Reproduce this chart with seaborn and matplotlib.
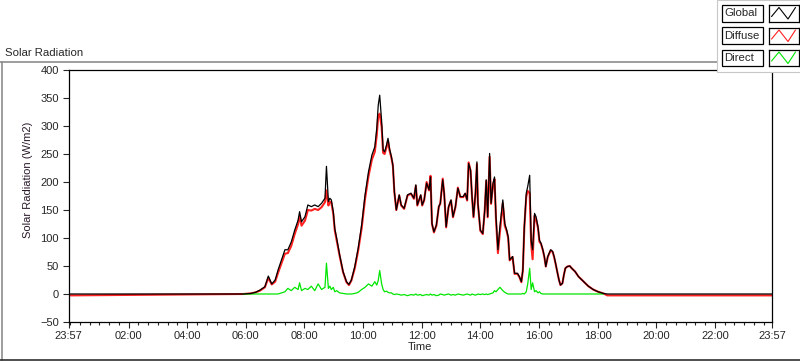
import numpy as np
import pandas as pd
import matplotlib.pyplot as plt
import seaborn as sns
from matplotlib.patches import Rectangle
from matplotlib.lines import Line2D

# Time in minutes after midnight (-3 = 23:57 the day before)
minutes = [-3, 355, 370, 380, 389, 399, 406, 413, 420, 426, 433, 440, 446, 453, 460,
           467, 470, 474, 481, 487, 494, 501, 508, 515, 522, 525, 529, 532, 535, 539,
           542, 546, 552, 559, 566, 571, 576, 583, 590, 597, 604, 611, 618, 624, 628,
           631, 634, 638, 641, 644, 648, 651, 654, 658, 661, 664, 668, 674, 678, 684,
           691, 698, 704, 708, 711, 718, 721, 725, 730, 735, 738, 741, 745, 750, 755,
           758, 763, 766, 770, 775, 780, 784, 789, 794, 799, 805, 809, 813, 816, 820,
           823, 826, 830, 833, 835, 840, 845, 849, 852, 855, 859, 862, 866, 869, 872,
           876, 880, 886, 890, 894, 897, 900, 906, 910, 916, 920, 924, 927, 930, 934,
           937, 941, 944, 947, 951, 954, 958, 961, 964, 968, 971, 974, 978, 981, 984,
           988, 991, 994, 998, 1001, 1004, 1008, 1011, 1014, 1018, 1023, 1027, 1034, 1041, 1048,
           1054, 1061, 1071, 1081, 1092, 1100, 1437]

global_rad = [0, 0, 1, 3, 7, 13, 32, 18, 25, 43, 61, 79, 79, 93, 114,
              132, 147, 129, 138, 159, 156, 159, 156, 162, 171, 228, 165, 171, 168, 147,
              117, 99, 70, 40, 22, 17, 25, 49, 82, 123, 177, 218, 248, 263, 296,
              337, 355, 308, 257, 254, 266, 278, 260, 245, 230, 183, 150, 177, 159, 153,
              177, 180, 171, 195, 159, 177, 159, 168, 198, 186, 209, 126, 111, 123, 156,
              162, 204, 180, 120, 156, 168, 138, 156, 189, 174, 174, 180, 168, 233, 221,
              174, 138, 180, 236, 162, 114, 108, 150, 204, 138, 251, 162, 198, 209, 138,
              79, 120, 168, 126, 114, 102, 61, 67, 37, 37, 31, 22, 43, 120, 180,
              192, 212, 96, 79, 144, 138, 120, 96, 91, 79, 67, 49, 67, 73, 79,
              76, 67, 55, 37, 25, 16, 19, 34, 46, 49, 50, 46, 40, 31, 25,
              20, 14, 8, 4, 1, 0, 0]

diffuse_rad = [-2.5, 0, 1, 3, 6, 12, 29, 17, 22, 38, 55, 72, 73, 86, 107,
               125, 139, 122, 131, 150, 149, 152, 150, 155, 164, 185, 158, 165, 163, 143,
               114, 96, 68, 39, 21, 16, 24, 46, 78, 117, 170, 210, 240, 254, 284,
               318, 322, 298, 252, 250, 262, 274, 257, 243, 229, 182, 150, 176, 158, 152,
               176, 179, 170, 193, 158, 176, 158, 167, 200, 185, 211, 125, 110, 122, 156,
               161, 206, 179, 119, 155, 167, 137, 155, 190, 173, 173, 179, 167, 235, 220,
               173, 137, 179, 232, 161, 113, 107, 149, 202, 137, 245, 161, 195, 205, 134,
               73, 110, 162, 122, 112, 100, 60, 66, 36, 36, 30, 21, 42, 118, 174,
               184, 180, 90, 62, 140, 134, 118, 93, 90, 78, 66, 49, 66, 72, 78,
               75, 66, 54, 37, 25, 16, 19, 34, 46, 49, 50, 46, 40, 31, 25,
               20, 14, 8, 4, 1, -2.5, -2.5]

direct_rad = [np.nan, 0, 0, 0, 0, 0, 0, 0, 0, 0, 2, 4, 10, 6, 12,
              8, 20, 6, 10, 8, 14, 6, 18, 8, 12, 55, 10, 14, 8, 12,
              4, 6, 2, 1, 0, 0, 0, 1, 3, 8, 12, 18, 14, 22, 16,
              24, 42, 18, 8, 4, 5, 3, 2, 2, 0, -1, 0, -1, -2, -1,
              -3, -1, -2, 0, -2, -1, -3, -2, -1, -2, 0, -2, -1, -3, -2,
              0, -1, -2, -1, 0, -2, -1, -2, 0, -1, -2, -1, 0, -1, -2,
              0, -1, -2, -1, 0, -1, 0, -1, 0, -1, 0, 1, 2, 6, 4,
              8, 12, 6, 3, 1, 0, 0, 0, 0, 0, 0, 0, 1, 0, 4,
              18, 46, 8, 20, 4, 6, 2, 4, 1, 0, 0, 0, 0, 0, 0,
              0, 0, 0, 0, 0, 0, 0, 0, 0, 0, 0, 0, 0, 0, 0,
              0, 0, 0, 0, 0, np.nan, np.nan]

tick_pos = [-3, 120, 240, 360, 480, 600, 720, 840, 960, 1080, 1200, 1320, 1437]
tick_labels = ['23:57', '02:00', '04:00', '06:00', '08:00', '10:00', '12:00',
               '14:00', '16:00', '18:00', '20:00', '22:00', '23:57']

df = pd.DataFrame({'Time': minutes, 'Global': global_rad,
                   'Diffuse': diffuse_rad, 'Direct': direct_rad})

sns.set_style('white')
plt.rcParams['font.family'] = ['Liberation Sans', 'DejaVu Sans']
plt.rcParams['font.size'] = 8

fig = plt.figure(figsize=(8, 3.61), dpi=100)
W, H = 800, 361
ax = fig.add_axes([68.5 / W, 1 - 322 / H, (772 - 68.5) / W, (322 - 70) / H])

# draw order: diffuse, direct, global on top
sns.lineplot(data=df, x='Time', y='Diffuse', ax=ax, color='#ff2020', lw=1.5, sort=False)
sns.lineplot(data=df[df['Direct'].notna()], x='Time', y='Direct', ax=ax,
             color='#00e600', lw=0.9, sort=False)
sns.lineplot(data=df, x='Time', y='Global', ax=ax, color='black', lw=0.9, sort=False)

ax.set_xlim(-3, 1437)
ax.set_ylim(-50, 400)
ax.set_xticks(tick_pos)
ax.set_xticklabels(tick_labels)
ax.set_xticks(range(0, 1437, 20), minor=True)
ax.set_yticks(range(-50, 401, 50))
ax.tick_params(axis='x', which='major', length=4.5, width=0.8, pad=2, direction='out',
               bottom=True, labelsize=8)
ax.tick_params(axis='x', which='minor', length=2.2, width=0.8, direction='out', bottom=True)
ax.tick_params(axis='y', length=4, width=0.8, pad=3, direction='out', left=True, labelsize=8)
for s in ax.spines.values():
    s.set_color('black')
    s.set_linewidth(0.9)
ax.set_xlabel('Time', fontsize=8, labelpad=1)
ax.set_ylabel('Solar Radiation (W/m2)', fontsize=8, color='#2a1a2a')
ax.yaxis.set_label_coords(-0.05, 0.563)

# panel frame
fig.add_artist(Line2D([0, 1], [1 - 61.5 / H] * 2, color='#8c8c8c', lw=1.2))
fig.add_artist(Line2D([1.5 / W] * 2, [1 - 61.5 / H, 1.5 / H], color='#8c8c8c', lw=1.2))
fig.add_artist(Line2D([0, 1], [1.5 / H] * 2, color='#303030', lw=1.2))
fig.text(5 / W, 1 - 56 / H, 'Solar Radiation', fontsize=8.2, va='baseline', ha='left')

# legend panel
fig.patches.append(Rectangle((716.5 / W, 1 - 72 / H), 84 / W, 72 / H, transform=fig.transFigure,
                             facecolor='white', edgecolor='#c8c8c8', lw=0.8, zorder=5))
names = ['Global', 'Diffuse', 'Direct']
colors = ['black', '#ff2020', '#00e600']
rows = [5, 27.5, 49.5]
for name, c, top in zip(names, colors, rows):
    fig.patches.append(Rectangle((722 / W, 1 - (top + 16.5) / H), 41 / W, 16.5 / H,
                                 transform=fig.transFigure, facecolor='white',
                                 edgecolor='black', lw=0.9, zorder=6))
    fig.text(724 / W, 1 - (top + 8.5) / H, name, fontsize=8.2, va='center', ha='left', zorder=7)
    sax = fig.add_axes([768.5 / W, 1 - (top + 16.5) / H, 30 / W, 16.5 / H], zorder=6)
    sax.plot([0.1, 0.35, 0.65, 0.9], [0.3, 0.85, 0.15, 0.85], color=c, lw=0.8)
    sax.set_xlim(0, 1)
    sax.set_ylim(0, 1)
    sax.set_xticks([])
    sax.set_yticks([])
    for s in sax.spines.values():
        s.set_color('black')
        s.set_linewidth(0.9)

plt.savefig('out.png', dpi=100)
